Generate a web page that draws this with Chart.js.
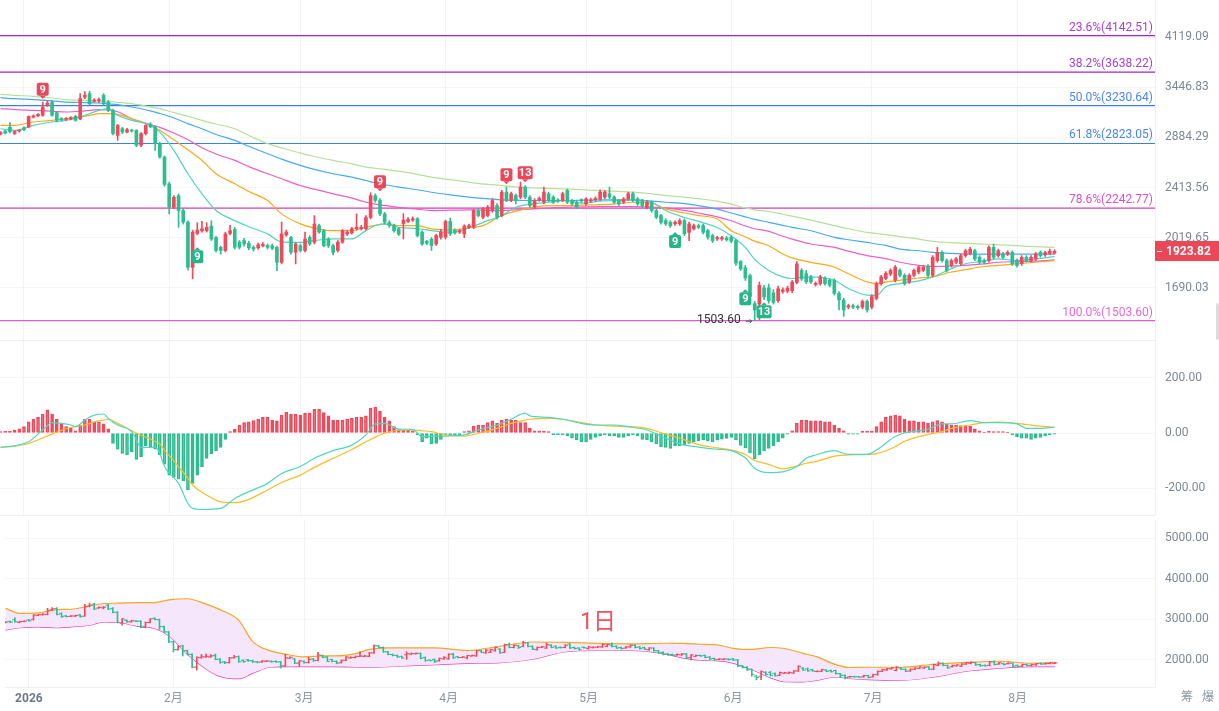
<!DOCTYPE html>
<html lang="zh-CN">
<head>
<meta charset="utf-8">
<title>日K</title>
<script src="https://cdn.jsdelivr.net/npm/chart.js@4.4.1/dist/chart.umd.min.js"></script>
<style>
  html, body { margin: 0; padding: 0; background: #fff; }
  #wrap { position: relative; width: 1219px; height: 711px; overflow: hidden; font-family: Roboto, "Noto Sans CJK SC", sans-serif; }
  .pane { position: absolute; left: 0; width: 1219px; }
  .sep { position: absolute; left: 0; width: 1155px; height: 1px; background: #f0f0f0; }
  #period { position: absolute; left: 580px; top: 609px; font-size: 23px; line-height: 26px; color: #f0525f; }
  .tool { position: absolute; top: 689px; font-size: 12px; line-height: 16px; color: #8c96a0; }
  #scroll { position: absolute; left: 1216px; top: 303px; width: 3px; height: 37px; background: #dcdcdc; border-radius: 2px; }
</style>
</head>
<body>
<div id="wrap">
  <div class="pane" style="top:0;height:340px"><canvas id="main"></canvas></div>
  <div class="pane" style="top:340px;height:175px"><canvas id="macd"></canvas></div>
  <div class="pane" style="top:515px;height:196px"><canvas id="boll"></canvas></div>
  <div class="sep" style="top:340px"></div>
  <div class="sep" style="top:515px"></div>
  <div id="period">1日</div>
  <div class="tool" style="left:1181px">筹</div>
  <div class="tool" style="left:1202px">爆</div>
  <div id="scroll"></div>
</div>
<script>
// day 0 = 2026-01-01, one candle per day
const firstDay = -5;

const opens = [
  2920, 2950, 2990, 2925, 2950, 2985,
  2993, 3100, 3115, 3120, 3235, 3270, 3150, 3085, 3075, 3080,
  3110, 3080, 3330, 3370, 3280, 3285, 3350, 3270, 3176, 2905,
  2975, 2940, 2960, 2957, 2805, 2923, 3025, 2993, 2821, 2690,
  2445, 2250, 2345, 2225, 2135, 1818, 2050, 2070, 2070, 2105,
  2020, 1952, 1930, 2050, 2080, 1988, 1999, 1980, 1952, 1948,
  1962, 1965, 1962, 1952, 1850, 2040, 2022, 1918, 1963, 1930,
  2022, 1988, 2108, 2070, 2010, 1963, 1930, 1988, 2047, 2055,
  2085, 2085, 2085, 2170, 2345, 2305, 2198, 2130, 2110, 2085,
  2124, 2140, 2150, 2160, 2060, 1995, 2010, 1975, 2023, 2023,
  2140, 2075, 2060, 2047, 2095, 2096, 2224, 2172, 2185, 2224,
  2264, 2185, 2375, 2305, 2347, 2333, 2418, 2333, 2251, 2310,
  2291, 2361, 2333, 2310, 2305, 2389, 2305, 2291, 2310, 2278,
  2300, 2312, 2318, 2333, 2361, 2333, 2305, 2291, 2318, 2361,
  2318, 2305, 2251, 2291, 2224, 2185, 2146, 2133, 2121, 2121,
  2146, 2059, 2084, 2108, 2108, 2071, 2035, 2011, 2011, 2018,
  2023, 1999, 1856, 1815, 1766, 1598, 1595, 1690, 1690, 1660,
  1615, 1668, 1670, 1673, 1723, 1798, 1777, 1757, 1710, 1716,
  1747, 1736, 1736, 1657, 1619, 1578, 1586, 1582, 1578, 1610,
  1578, 1628, 1716, 1747, 1775, 1736, 1798, 1767, 1726, 1767,
  1788, 1798, 1824, 1767, 1862, 1917, 1862, 1830, 1851, 1841,
  1895, 1910, 1928, 1884, 1862, 1862, 1951, 1895, 1906, 1906,
  1917, 1862, 1841, 1884, 1862, 1873, 1917, 1900, 1910, 1912
];
const highs = [
  2945, 2960, 3040, 2955, 2965, 2995,
  3115, 3125, 3140, 3272, 3290, 3290, 3160, 3095, 3095, 3105,
  3120, 3370, 3395, 3400, 3310, 3320, 3370, 3290, 3190, 3020,
  2990, 2980, 2970, 2965, 2935, 3020, 3040, 3005, 2835, 2700,
  2460, 2345, 2360, 2240, 2145, 2075, 2130, 2140, 2130, 2145,
  2030, 1960, 2060, 2110, 2095, 2000, 2015, 1995, 1962, 1982,
  1985, 1975, 1975, 1960, 2135, 2075, 2030, 1985, 1975, 2060,
  2035, 2185, 2120, 2080, 2020, 1975, 2000, 2080, 2075, 2095,
  2198, 2110, 2185, 2370, 2360, 2320, 2210, 2145, 2120, 2095,
  2200, 2170, 2175, 2170, 2070, 2000, 2020, 2045, 2080, 2150,
  2165, 2085, 2080, 2115, 2120, 2235, 2240, 2250, 2265, 2320,
  2280, 2390, 2418, 2375, 2360, 2460, 2430, 2345, 2320, 2335,
  2418, 2375, 2345, 2320, 2375, 2400, 2315, 2300, 2320, 2330,
  2325, 2335, 2395, 2389, 2418, 2345, 2315, 2330, 2375, 2375,
  2330, 2315, 2305, 2300, 2235, 2195, 2160, 2145, 2145, 2160,
  2160, 2135, 2120, 2120, 2120, 2080, 2045, 2030, 2030, 2028,
  2035, 2010, 1862, 1830, 1775, 1610, 1725, 1705, 1713, 1680,
  1700, 1690, 1700, 1735, 1855, 1810, 1798, 1767, 1726, 1767,
  1757, 1745, 1745, 1667, 1628, 1595, 1595, 1590, 1619, 1619,
  1650, 1726, 1767, 1790, 1808, 1830, 1808, 1777, 1777, 1808,
  1830, 1830, 1835, 1895, 1951, 1928, 1873, 1873, 1884, 1906,
  1939, 1951, 1939, 1895, 1873, 1962, 1975, 1939, 1917, 1928,
  1928, 1873, 1895, 1895, 1895, 1917, 1928, 1925, 1940, 1935
];
const lows = [
  2910, 2920, 2930, 2915, 2940, 2955,
  2985, 3090, 3105, 3110, 3220, 3110, 3050, 3060, 3065, 3070,
  3055, 3070, 3310, 3240, 3270, 3260, 3240, 3160, 2910, 2854,
  2925, 2930, 2940, 2790, 2790, 2910, 2985, 2754, 2680, 2425,
  2198, 2240, 2096, 2120, 1800, 1745, 2040, 2060, 2060, 2000,
  1920, 1905, 1920, 2040, 1940, 1940, 1960, 1935, 1925, 1938,
  1955, 1940, 1935, 1796, 1840, 2030, 1905, 1840, 1920, 1920,
  1965, 1975, 2050, 1955, 1950, 1900, 1920, 1980, 2035, 2045,
  2075, 2075, 2075, 2160, 2290, 2185, 2120, 2095, 2060, 2035,
  2011, 2130, 2140, 2025, 1965, 1970, 1930, 1965, 2010, 2010,
  2035, 2045, 2050, 2020, 2085, 2085, 2175, 2160, 2175, 2210,
  2160, 2175, 2295, 2295, 2278, 2320, 2320, 2250, 2240, 2300,
  2280, 2295, 2280, 2290, 2295, 2280, 2265, 2240, 2290, 2265,
  2290, 2300, 2305, 2320, 2320, 2280, 2265, 2280, 2305, 2295,
  2265, 2250, 2240, 2210, 2160, 2120, 2110, 2095, 2110, 2110,
  2035, 1999, 2075, 2085, 2047, 2010, 1985, 2000, 2000, 1995,
  1985, 1830, 1797, 1735, 1595, 1503.6, 1510, 1620, 1600, 1595,
  1605, 1658, 1660, 1660, 1713, 1735, 1716, 1716, 1700, 1706,
  1706, 1696, 1647, 1563, 1527, 1568, 1570, 1565, 1568, 1550,
  1568, 1619, 1706, 1740, 1765, 1726, 1757, 1706, 1716, 1757,
  1777, 1790, 1757, 1757, 1851, 1851, 1788, 1819, 1840, 1830,
  1884, 1900, 1862, 1841, 1841, 1851, 1873, 1884, 1873, 1895,
  1830, 1819, 1830, 1851, 1851, 1862, 1884, 1890, 1900, 1905
];
const closes = [
  2935, 2930, 2945, 2945, 2955, 2965,
  3108, 3115, 3130, 3214, 3260, 3120, 3065, 3070, 3085, 3095,
  3065, 3311, 3350, 3252, 3295, 3300, 3252, 3176, 2923, 3010,
  2940, 2965, 2950, 2805, 2923, 3010, 2995, 2821, 2690, 2440,
  2251, 2332, 2225, 2135, 1818, 2060, 2075, 2085, 2095, 2010,
  1930, 1930, 2047, 2070, 1952, 1952, 1975, 1948, 1940, 1970,
  1972, 1952, 1945, 1850, 2047, 2060, 1918, 1975, 1930, 2010,
  1975, 2120, 2060, 1963, 1963, 1917, 1988, 2070, 2060, 2085,
  2096, 2096, 2170, 2345, 2305, 2198, 2135, 2110, 2070, 2045,
  2150, 2155, 2160, 2035, 1975, 1980, 1965, 2035, 2060, 2140,
  2047, 2055, 2070, 2105, 2108, 2224, 2185, 2238, 2251, 2305,
  2172, 2375, 2305, 2361, 2305, 2418, 2333, 2264, 2305, 2322,
  2375, 2305, 2291, 2300, 2361, 2291, 2278, 2251, 2300, 2318,
  2310, 2322, 2375, 2375, 2333, 2291, 2278, 2318, 2361, 2305,
  2278, 2264, 2291, 2224, 2172, 2133, 2121, 2108, 2133, 2146,
  2047, 2121, 2108, 2096, 2059, 2023, 1999, 2020, 2020, 2005,
  1995, 1845, 1808, 1750, 1640, 1562, 1705, 1636, 1615, 1605,
  1685, 1678, 1688, 1725, 1840, 1745, 1726, 1726, 1718, 1757,
  1716, 1706, 1657, 1619, 1563, 1586, 1578, 1575, 1610, 1563,
  1638, 1716, 1757, 1780, 1798, 1819, 1767, 1716, 1767, 1798,
  1819, 1819, 1767, 1884, 1917, 1862, 1798, 1862, 1873, 1895,
  1928, 1939, 1873, 1851, 1851, 1951, 1884, 1928, 1884, 1917,
  1841, 1830, 1884, 1862, 1884, 1906, 1895, 1915, 1925, 1923.82
];

// moving averages, read every few days
const maDays = [-5, -2, 2, 6, 9, 13, 16, 18, 20, 23, 27, 29, 32, 35, 38, 41, 45, 48, 52, 55,
  59, 62, 66, 70, 73, 75, 77, 80, 84, 87, 91, 95, 98, 102, 105, 109, 112, 116, 119, 123,
  127, 130, 134, 137, 141, 144, 148, 151, 154, 156, 159, 162, 164, 168, 173, 176, 180, 182, 184, 187,
  191, 194, 198, 201, 205, 208, 212, 216, 220];
const maFast = [2975, 2957, 3011, 3047, 3065, 3120, 3176, 3195, 3120, 3065, 3011, 2940, 2754, 2535, 2360, 2225, 2146, 2100, 2047, 1990,
  1987, 1999, 2011, 2011, 2071, 2109, 2121, 2096, 2085, 2071, 2059, 2091, 2133, 2185, 2251, 2278, 2291, 2305, 2284, 2300,
  2305, 2311, 2291, 2224, 2170, 2140, 2094, 2032, 1951, 1870, 1798, 1757, 1747, 1757, 1736, 1686, 1647, 1645, 1696, 1716,
  1732, 1757, 1809, 1841, 1858, 1873, 1862, 1873, 1888];
const maMid = [3011, 3011, 3047, 3065, 3083, 3110, 3138, 3140, 3130, 3083, 3011, 2960, 2860, 2760, 2658, 2535, 2446, 2380, 2305, 2198,
  2121, 2090, 2071, 2071, 2096, 2110, 2121, 2109, 2108, 2084, 2076, 2091, 2108, 2185, 2220, 2251, 2264, 2264, 2268, 2271,
  2280, 2291, 2284, 2237, 2205, 2185, 2158, 2071, 2025, 1995, 1963, 1906, 1880, 1850, 1819, 1777, 1726, 1716, 1725, 1736,
  1750, 1757, 1788, 1803, 1823, 1830, 1841, 1851, 1862];
const maSlow = [3195, 3185, 3176, 3166, 3157, 3170, 3184, 3180, 3160, 3083, 3020, 2990, 2930, 2860, 2781, 2720, 2658, 2600, 2535, 2490,
  2431, 2400, 2360, 2325, 2291, 2275, 2265, 2250, 2235, 2224, 2227, 2230, 2228, 2224, 2230, 2237, 2244, 2251, 2253, 2256,
  2256, 2256, 2252, 2245, 2225, 2205, 2175, 2145, 2105, 2085, 2065, 2030, 2010, 1975, 1951, 1925, 1895, 1885, 1875, 1851,
  1830, 1823, 1826, 1830, 1840, 1851, 1855, 1858, 1867];
const maLong = [3322, 3310, 3299, 3285, 3271, 3265, 3260, 3250, 3240, 3214, 3170, 3140, 3090, 3030, 2975, 2915, 2854, 2795, 2722, 2670,
  2611, 2575, 2535, 2505, 2475, 2455, 2440, 2417, 2395, 2374, 2352, 2333, 2322, 2311, 2308, 2305, 2305, 2305, 2308, 2311,
  2311, 2311, 2300, 2291, 2280, 2264, 2235, 2205, 2175, 2155, 2133, 2110, 2095, 2070, 2022, 2005, 1986, 1975, 1965, 1939,
  1928, 1917, 1910, 1905, 1905, 1905, 1905, 1905, 1905];
const maYear = [3362, 3350, 3338, 3318, 3299, 3290, 3283, 3275, 3268, 3252, 3215, 3195, 3150, 3110, 3065, 3025, 2975, 2905, 2821, 2780,
  2728, 2695, 2658, 2625, 2596, 2585, 2575, 2558, 2530, 2505, 2482, 2460, 2445, 2431, 2420, 2411, 2406, 2402, 2395, 2388,
  2381, 2374, 2360, 2346, 2333, 2320, 2300, 2275, 2245, 2230, 2217, 2195, 2180, 2150, 2108, 2085, 2058, 2050, 2042, 2027,
  2010, 1993, 1985, 1979, 1974, 1970, 1963, 1956, 1951];

// fibonacci retracement
const fibPct = ['23.6%', '38.2%', '50.0%', '61.8%', '78.6%', '100.0%'];
const fibLevels = [4142.51, 3638.22, 3230.64, 2823.05, 2242.77, 1503.60];

// TD sequential marks
const markDays = [4, 76, 103, 107, 37, 139, 154, 158];
const markText = ['9', '9', '9', '13', '9', '9', '9', '13'];
const markPrice = [3422, 2465, 2527, 2545, 1888, 1992, 1625, 1552];
const markUp = [true, true, true, true, false, false, false, false];

// MACD
const macdHist = [
  5, 6, 7, 11, 15, 23,
  41, 51, 57, 69, 84, 69, 51, 33, 23, 17,
  8, 29, 50, 50, 41, 41, 33, 15, -38, -59,
  -74, -80, -68, -96, -86, -47, -52, -59, -80, -113,
  -153, -161, -168, -173, -207, -183, -153, -122, -92, -76,
  -64, -52, -23, 5, 13, 29, 38, 41, 45, 50,
  57, 57, 47, 44, 65, 75, 69, 69, 65, 72,
  72, 86, 86, 74, 62, 47, 47, 47, 51, 53,
  57, 57, 62, 90, 93, 79, 58, 44, 23, 12,
  11, 11, 8, -7, -32, -19, -40, -38, -23, -7,
  -7, -7, -7, 5, 8, 25, 29, 29, 38, 44,
  35, 47, 50, 47, 47, 38, 38, 17, 8, 8,
  7, 5, -7, -7, -7, -11, -19, -25, -32, -32,
  -23, -16, -11, -7, -11, -11, -16, -16, -11, -7,
  -11, -23, -25, -32, -40, -50, -52, -56, -47, -47,
  -44, -38, -32, -28, -25, -30, -32, -26, -22, -20,
  -16, -25, -45, -54, -72, -94, -80, -65, -56, -47,
  -32, -19, -4, 8, 35, 47, 47, 44, 44, 44,
  41, 41, 29, 17, 8, -4, -4, -4, 7, 7,
  7, 23, 41, 57, 62, 65, 62, 50, 44, 44,
  41, 41, 35, 41, 45, 41, 32, 29, 29, 27,
  27, 25, 15, 8, 2, 7, 5, 5, 5, 1,
  -7, -13, -19, -19, -23, -19, -16, -11, -7, -4
];
const macdDays = [-5, -2, 1, 2, 4, 6, 8, 10, 11, 13, 15, 17, 18, 20, 23, 24, 25, 28, 29, 30,
  33, 35, 36, 38, 42, 45, 48, 52, 55, 59, 62, 66, 70, 73, 75, 77, 80, 83, 85, 87,
  90, 94, 97, 101, 104, 107, 108, 112, 115, 119, 122, 126, 129, 133, 136, 140, 144, 148, 151, 154,
  156, 159, 162, 165, 167, 169, 173, 176, 180, 182, 186, 188, 193, 196, 198, 202, 205, 208, 212, 214, 217, 220];
const dif = [-52, -47, -32, -19, 11, 38, 35, 29, 23, 47, 65, 69, 53, 29, 5, -25, -52, -52, -74, -122,
  -183, -256, -274, -278, -274, -238, -213, -183, -147, -122, -92, -64, -44, -7, 33, 35, 14, 13, -13, -11,
  -11, -7, 11, 29, 50, 72, 62, 57, 50, 35, 29, 29, 23, 11, -11, -40, -51, -59, -64, -90,
  -128, -144, -141, -122, -92, -80, -64, -78, -78, -62, -13, 1, 13, 33, 33, 45, 38, 38, 33, 17, 17, 21];
const dea = [-52, -48, -38, -32, -18, -4, 10, 20, 23, 29, 40, 47, 50, 35, 8, 0, -8, -30, -40, -62,
  -122, -165, -189, -215, -250, -253, -241, -207, -180, -153, -125, -92, -60, -32, -15, -1, 10, 11, 8, 5,
  -7, -11, -1, 17, 35, 47, 50, 53, 50, 38, 29, 25, 23, 17, 1, -19, -42, -54, -62, -78,
  -100, -114, -130, -120, -110, -104, -84, -80, -78, -75, -50, -30, -5, 5, 17, 29, 38, 40, 35, 31, 25, 21];

// Bollinger bands
const bandDays = [-5, -2, 2, 6, 9, 13, 16, 19, 23, 27, 30, 34, 38, 41, 45, 48, 52, 55, 59, 63,
  66, 70, 73, 77, 80, 87, 94, 101, 108, 115, 122, 129, 136, 140, 144, 148, 151, 155, 159, 162,
  166, 169, 173, 176, 180, 187, 194, 201, 208, 215, 220];
const bandUpper = [3272, 3150, 3160, 3240, 3250, 3330, 3392, 3400, 3416, 3416, 3480, 3510, 3376, 3240, 2976, 2450, 2216, 2140, 2072, 2096,
  2096, 2152, 2256, 2296, 2296, 2296, 2230, 2336, 2440, 2430, 2405, 2392, 2410, 2408, 2385, 2360, 2285, 2256, 2305, 2280,
  2160, 2072, 1880, 1810, 1816, 1816, 1890, 1936, 1965, 1915, 1936];
const bandMid = [3016, 2952, 2952, 3000, 3032, 3072, 3112, 3176, 3136, 3096, 2992, 2816, 2616, 2472, 2296, 2096, 2016, 1976, 1976, 1976,
  1976, 1992, 2056, 2080, 2080, 2072, 2072, 2120, 2216, 2296, 2312, 2305, 2220, 2152, 2120, 2070, 2040, 1975, 1930, 1890,
  1840, 1760, 1696, 1670, 1656, 1656, 1752, 1832, 1880, 1880, 1896];
const bandLower = [2736, 2792, 2816, 2792, 2816, 2856, 2936, 2930, 2840, 2776, 2600, 2136, 1776, 1592, 1536, 1672, 1825, 1832, 1832, 1832,
  1832, 1825, 1816, 1830, 1850, 1880, 1912, 1930, 2016, 2200, 2232, 2232, 2160, 2056, 1992, 1976, 1920, 1760, 1560, 1460,
  1456, 1496, 1576, 1540, 1512, 1496, 1576, 1720, 1792, 1832, 1832];

// axes
const monthDays = [0, 31, 59, 90, 120, 151, 181, 212];
const monthLabels = ['2026', '2月', '3月', '4月', '5月', '6月', '7月', '8月'];
const priceTicks = [4119.09, 3446.83, 2884.29, 2413.56, 2019.65, 1690.03];
const macdTicks = [200, 0, -200];
const bollTicks = [5000, 4000, 3000, 2000];

const X0 = -5.12, X1 = 241.46;
const UP = '#ef4a5b', DOWN = '#2dbd90';
const UP_SOFT = 'rgba(239,74,91,0.42)', DOWN_SOFT = 'rgba(45,189,144,0.42)';
const fibLine = ['#9c26d0', '#9c26d0', '#3a80ef', '#3a80ef', '#d83cb8', '#e25acc'];
const fibText = ['#a53fd6', '#a53fd6', '#4b86ec', '#4b86ec', '#dc4fc0', '#e56ad2'];

const days = opens.map((_, i) => firstDay + i);
const candleColors = days.map((_, i) => closes[i] >= opens[i] ? UP : DOWN);
const pts = (xs, ys) => xs.map((x, i) => ({ x, y: ys[i] }));

Chart.defaults.font.family = 'Roboto, "Noto Sans CJK SC", sans-serif';
Chart.defaults.font.size = 12;
Chart.defaults.color = '#7d8896';

function xAxis(showLabels) {
  return {
    type: 'linear', min: X0, max: X1, offset: false,
    grid: { color: '#f3f3f3', drawTicks: false, offset: false },
    border: { display: showLabels, color: '#efefef' },
    ticks: {
      display: showLabels, padding: 5, autoSkip: false, maxRotation: 0,
      color: c => (c.tick && c.tick.value === 0 ? '#6e7985' : '#8c96a0'),
      font: c => ({ size: 12, weight: c.tick && c.tick.value === 0 ? 'bold' : 'normal' }),
      callback: v => { const k = monthDays.indexOf(v); return k < 0 ? '' : monthLabels[k]; }
    },
    afterBuildTicks: s => { s.ticks = monthDays.map(v => ({ value: v })); },
    afterFit: s => { s.height = showLabels ? 24 : 0; s.paddingLeft = 0; s.paddingRight = 0; }
  };
}

function yAxis(type, min, max, tickVals) {
  return {
    type, position: 'right', min, max,
    grid: { color: '#f5f5f5', drawTicks: false },
    border: { display: true, color: '#efefef' },
    ticks: { padding: 10, color: '#7d8896', font: { size: 12 }, callback: v => Number(v).toFixed(2) },
    afterBuildTicks: s => { s.ticks = tickVals.map(v => ({ value: v })); },
    afterFit: s => { s.width = 64; s.paddingTop = 0; s.paddingBottom = 0; }
  };
}

const base = {
  responsive: true, maintainAspectRatio: false, animation: false, events: [],
  layout: { padding: 0 },
  plugins: { legend: { display: false }, tooltip: { enabled: false } }
};

// --- main pane helpers
const fibLabels = {
  id: 'fibLabels',
  afterDatasetsDraw(chart) {
    const { ctx, chartArea, scales: { y } } = chart;
    ctx.save();
    ctx.font = '12px Roboto, sans-serif';
    ctx.textAlign = 'right';
    ctx.textBaseline = 'bottom';
    fibLevels.forEach((v, i) => {
      ctx.fillStyle = fibText[i];
      ctx.fillText(fibPct[i] + '(' + v.toFixed(2) + ')', chartArea.right - 2, y.getPixelForValue(v) - 2);
    });
    ctx.restore();
  }
};

const tdMarks = {
  id: 'tdMarks',
  afterDatasetsDraw(chart) {
    const { ctx, scales: { x, y } } = chart;
    ctx.save();
    markDays.forEach((d, i) => {
      const cx = x.getPixelForValue(d), cy = y.getPixelForValue(markPrice[i]);
      const w = markText[i].length > 1 ? 15 : 12, h = 13;
      ctx.fillStyle = markUp[i] ? '#ec4757' : '#27b48a';
      ctx.beginPath();
      if (ctx.roundRect) ctx.roundRect(cx - w / 2, cy - h / 2, w, h, 2); else ctx.rect(cx - w / 2, cy - h / 2, w, h);
      ctx.fill();
      ctx.beginPath();
      if (markUp[i]) { ctx.moveTo(cx - 3, cy + h / 2); ctx.lineTo(cx + 3, cy + h / 2); ctx.lineTo(cx, cy + h / 2 + 3); }
      else { ctx.moveTo(cx - 3, cy - h / 2); ctx.lineTo(cx + 3, cy - h / 2); ctx.lineTo(cx, cy - h / 2 - 3); }
      ctx.fill();
      ctx.fillStyle = '#fff';
      ctx.font = 'bold 11px Roboto, sans-serif';
      ctx.textAlign = 'center';
      ctx.textBaseline = 'middle';
      ctx.fillText(markText[i], cx, cy + 0.5);
    });
    ctx.restore();
  }
};

const lowLabel = {
  id: 'lowLabel',
  afterDatasetsDraw(chart) {
    const { ctx, scales: { x, y } } = chart;
    const lo = Math.min(...lows), k = lows.indexOf(lo);
    const lx = x.getPixelForValue(days[k]), ly = y.getPixelForValue(lo);
    ctx.save();
    ctx.fillStyle = '#333';
    ctx.font = '12px Roboto, sans-serif';
    ctx.textAlign = 'right';
    ctx.textBaseline = 'middle';
    ctx.fillText(lo.toFixed(2), lx - 14, ly - 1);
    ctx.strokeStyle = '#555';
    ctx.lineWidth = 1;
    ctx.beginPath();
    ctx.moveTo(lx - 9, ly + 0.5); ctx.lineTo(lx - 3, ly + 0.5);
    ctx.moveTo(lx - 5, ly - 1.5); ctx.lineTo(lx - 3, ly + 0.5); ctx.lineTo(lx - 5, ly + 2.5);
    ctx.stroke();
    ctx.restore();
  }
};

const priceTag = {
  id: 'priceTag',
  afterDraw(chart) {
    const { ctx, chartArea, scales: { y } } = chart;
    const last = closes[closes.length - 1];
    const py = Math.round(y.getPixelForValue(last));
    ctx.save();
    ctx.fillStyle = '#ec4756';
    ctx.fillRect(chartArea.right, py - 10, chart.width - chartArea.right, 20);
    ctx.fillStyle = '#fff';
    ctx.fillRect(chartArea.right + 2, py, 5, 1);
    ctx.font = 'bold 12px Roboto, sans-serif';
    ctx.textAlign = 'left';
    ctx.textBaseline = 'middle';
    ctx.fillText(last.toFixed(2), chartArea.right + 11, py + 0.5);
    ctx.restore();
  }
};

const maLine = (data, color) => ({
  type: 'line', data, borderColor: color, borderWidth: 1.2, pointRadius: 0,
  cubicInterpolationMode: 'monotone', order: 3
});

new Chart(document.getElementById('main'), {
  type: 'bar',
  data: {
    datasets: [
      { type: 'bar', data: days.map((d, i) => ({ x: d, y: [opens[i], closes[i]] })), backgroundColor: candleColors,
        barThickness: 3, maxBarThickness: 3, minBarLength: 1, grouped: false, order: 1 },
      { type: 'bar', data: days.map((d, i) => ({ x: d, y: [lows[i], highs[i]] })), backgroundColor: candleColors,
        barThickness: 1, maxBarThickness: 1, grouped: false, order: 2 },
      maLine(pts(maDays, maFast), '#52d3c0'),
      maLine(pts(maDays, maMid), '#f8aa1c'),
      maLine(pts(maDays, maSlow), '#ec5fc6'),
      maLine(pts(maDays, maLong), '#47aaf0'),
      maLine(pts(maDays, maYear), '#b5e09c'),
      ...fibLevels.map((v, i) => ({
        type: 'line', data: [{ x: X0, y: v }, { x: X1, y: v }], borderColor: fibLine[i],
        borderWidth: 1.2, pointRadius: 0, order: 5
      }))
    ]
  },
  options: { ...base, scales: { x: xAxis(false), y: yAxis('logarithmic', 1404, 4701, priceTicks) } },
  plugins: [fibLabels, tdMarks, lowLabel, priceTag]
});

// --- MACD pane
const histFill = macdHist.map((h, i) => {
  const p = i > 0 ? macdHist[i - 1] : 0;
  const grow = Math.abs(h) >= Math.abs(p) && (h >= 0) === (p >= 0);
  if (h >= 0) return grow ? UP_SOFT : UP;
  return grow ? DOWN_SOFT : DOWN;
});
const histLine = macdHist.map(h => (h >= 0 ? UP : DOWN));

new Chart(document.getElementById('macd'), {
  type: 'bar',
  data: {
    datasets: [
      { type: 'bar', data: pts(days, macdHist), backgroundColor: histFill, borderColor: histLine, borderWidth: 1,
        borderSkipped: false, barThickness: 3, maxBarThickness: 3, grouped: false, order: 2 },
      { type: 'line', data: pts(macdDays, dif), borderColor: '#4fd6c2', borderWidth: 1.2, pointRadius: 0, cubicInterpolationMode: 'monotone', order: 1 },
      { type: 'line', data: pts(macdDays, dea), borderColor: '#fbbd23', borderWidth: 1.2, pointRadius: 0, cubicInterpolationMode: 'monotone', order: 1 }
    ]
  },
  options: { ...base, scales: { x: xAxis(false), y: yAxis('linear', -298, 338, macdTicks) } }
});

// --- Bollinger pane
new Chart(document.getElementById('boll'), {
  type: 'bar',
  data: {
    datasets: [
      { type: 'line', data: pts(bandDays, bandUpper), borderColor: '#f6a526', borderWidth: 1.2, pointRadius: 0,
        cubicInterpolationMode: 'monotone', fill: '+2', backgroundColor: '#f5e6fc', order: 3 },
      { type: 'line', data: pts(bandDays, bandMid), borderColor: '#3dbdb4', borderWidth: 1.2, pointRadius: 0,
        cubicInterpolationMode: 'monotone', order: 3 },
      { type: 'line', data: pts(bandDays, bandLower), borderColor: '#e23db6', borderWidth: 1.2, pointRadius: 0,
        cubicInterpolationMode: 'monotone', order: 3 },
      { type: 'bar', data: days.map((d, i) => ({ x: d, y: [lows[i], highs[i]] })), backgroundColor: candleColors,
        barThickness: 1, maxBarThickness: 1, grouped: false, order: 1 },
      { type: 'line', data: days.map((d, i) => ({ x: d - 0.28, y: opens[i] })), showLine: false, pointStyle: 'line',
        pointRadius: 1.3, pointBorderWidth: 1, pointBorderColor: candleColors, order: 1 },
      { type: 'line', data: days.map((d, i) => ({ x: d + 0.28, y: closes[i] })), showLine: false, pointStyle: 'line',
        pointRadius: 1.3, pointBorderWidth: 1, pointBorderColor: candleColors, order: 1 }
    ]
  },
  options: { ...base, scales: { x: xAxis(true), y: yAxis('linear', 1328, 5456, bollTicks) } }
});
</script>
</body>
</html>
